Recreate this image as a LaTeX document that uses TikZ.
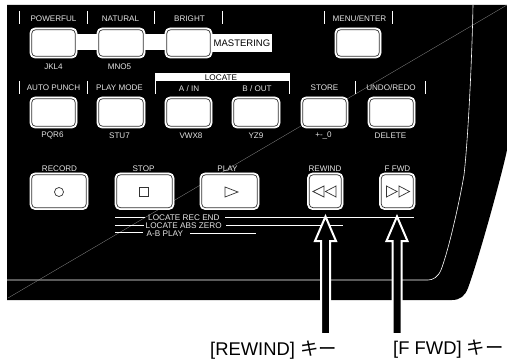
\documentclass[tikz,border=0pt]{standalone}
\usepackage{fontspec}
\setmainfont{Liberation Sans}
\newfontfamily\cjkfont{Noto Sans CJK JP}
\begin{document}
\begin{tikzpicture}[x=1pt,y=-1pt,
  key/.style={rounded corners=5pt,fill=white,draw=white,line width=0.8pt},
  keyin/.style={rounded corners=4pt,draw=black!80,line width=0.7pt,fill=white},
  lab/.style={text=white!90!black,font=\fontsize{8.1}{8}\selectfont,inner sep=0pt,anchor=center},
  labsm/.style={text=white!90!black,font=\fontsize{8.2}{8}\selectfont,inner sep=0pt,anchor=west},
  blab/.style={text=black,font=\fontsize{8.2}{8}\selectfont,inner sep=0pt,anchor=center},
  tick/.style={draw=white,line width=1pt},
  rulewhite/.style={draw=white,line width=0.9pt},
  sym/.style={draw=black!80,line width=0.7pt,fill=white},
  captext/.style={text=black,font=\fontsize{18.4}{19}\selectfont,inner sep=0pt,anchor=west},
  arrowbody/.style={fill=black,draw=white,line width=2pt,miter limit=10}]
\useasboundingbox (0,0) rectangle (507,361);
\fill[white] (0,0) rectangle (507,361);
% panel
\fill[black] (7,5) -- (507,5) -- (507,150) .. controls (503,170) and (480,255) .. (468,288)
  .. controls (465,296) and (460,300) .. (452,300) -- (7,300) -- cycle;
\draw[white,line width=0.6pt] (473,5) .. controls (472,60) and (468,140) .. (464,175)
  .. controls (458,210) and (447,255) .. (441,270) .. controls (438,277) and (433,280) .. (428,280) -- (7,280);
% diagonal
\draw[black!45,line width=0.3pt] (8,298) -- (507,5);
% white bands
\fill[white] (75,34) rectangle (100,50);
\fill[white] (143,34) rectangle (168,50);
\fill[white] (211,34) rectangle (272,52);
\fill[white] (155,73) rectangle (290,81);
% ticks
\foreach \a/\b/\c in {19/11/24,87/11/24,154.5/11/24,222/11/24,324/11/24,392/11/24,19/81/94,87/81/94,155/73/94,289.5/73/94,355/81/94,425/81/94}
  \draw[tick] (\a,\b) -- (\a,\c);
% buttons
\foreach \n/\a/\b/\c/\d in {k1/30/28/77/58,k2/97/28/145/58,k3/165/28/212/58,k4/335/28/381/58,
  k5/30/97/77/128,k6/97/97/145/128,k7/165/97/212/128,k8/232/97/280/128,k9/301/97/348/128,k10/368/97/415/128,
  k11/30/173/88/209.5,k12/115/173/174/209.5,k13/200/173/259/209.5,k14/307.5/173/343/209.5,k15/379.5/173/415/209.5}{
  \draw[key] (\a,\b) rectangle (\c,\d);
  \draw[keyin] (\a+1.7,\b+1.7) rectangle (\c-1.7,\d-1.7);
  \coordinate (\n) at ({(\a+\c)/2},{(\b+\d)/2});
}
% symbols
\draw[sym] (59,192) circle (4.5);
\draw[sym] (139.5,187.5) rectangle (148,196);
\draw[sym] (225,187) -- (238,192) -- (225,197) -- cycle;
\draw[sym] (324,186) -- (313,191.5) -- (324,197) -- cycle;
\draw[sym] (336,186) -- (325.5,191.5) -- (336,197) -- cycle;
\draw[sym] (386.5,186) -- (397,191.5) -- (386.5,197) -- cycle;
\draw[sym] (399,186) -- (409.5,191.5) -- (399,197) -- cycle;
% labels
\node[lab] (l1) at (53.5,19) {POWERFUL};
\node[lab] (l2) at (120.5,19) {NATURAL};
\node[lab] (l3) at (189.5,19) {BRIGHT};
\node[lab] (l4) at (359.5,18.5) {MENU/ENTER};
\node[blab,anchor=west,font=\fontsize{9.5}{9}\selectfont] (ma) at (213.5,43) {MASTERING};
\node[lab] (l5) at (53.5,66.5) {JKL4};
\node[lab] (l6) at (119.5,66.5) {MNO5};
\node[lab] (l7) at (53.5,88) {AUTO PUNCH};
\node[lab] (l8) at (119.5,88) {PLAY MODE};
\node[blab] (lo) at (221,78) {LOCATE};
\node[lab] (l9) at (189,89) {A / IN};
\node[lab] (l10) at (257,89) {B / OUT};
\node[lab] (l11) at (324.5,88) {STORE};
\node[lab] (l12) at (391,88) {UNDO/REDO};
\node[lab] (l13) at (52.5,135.5) {PQR6};
\node[lab] (l14) at (119.5,135.5) {STU7};
\node[lab] (l15) at (191,135.5) {VWX8};
\node[lab] (l16) at (256,135.5) {YZ9};
\node[lab] (l17) at (323.5,135.5) {+-\_0};
\node[lab] (l18) at (390.5,135.5) {DELETE};
\node[lab] (l19) at (59.5,169) {RECORD};
\node[lab] (l20) at (143.5,169) {STOP};
\node[lab] (l21) at (227.5,169) {PLAY};
\node[lab] (l22) at (325,169) {REWIND};
\node[lab] (l23) at (397.5,169) {F FWD};
% locate rules
\node[labsm] (a1) at (148,218) {LOCATE REC END};
\node[labsm] (a2) at (145.5,226) {LOCATE ABS ZERO};
\node[labsm] (a3) at (146.5,233.5) {A-B PLAY};
\draw[rulewhite] (115,217) -- (145,217);
\draw[rulewhite] (225,217) -- (414,217);
\draw[rulewhite] (115,225) -- (144,225);
\draw[rulewhite] (226,225) -- (343,225);
\draw[rulewhite] (115,232) -- (143,232);
\draw[rulewhite] (190,233) -- (256,233);
% arrows
\foreach \x in {325.5,397}{
  \draw[arrowbody] (\x,216.5) -- (\x+10.5,241) -- (\x+4.5,241) -- (\x+4.5,334) -- (\x-4.5,334) -- (\x-4.5,241) -- (\x-10.5,241) -- cycle;
}
% captions
\node[captext] (c1) at (210,350) {[REWIND] {\cjkfont キー}};
\node[captext] (c2) at (393,349.5) {[F FWD] {\cjkfont キー}};
\end{tikzpicture}
\end{document}
